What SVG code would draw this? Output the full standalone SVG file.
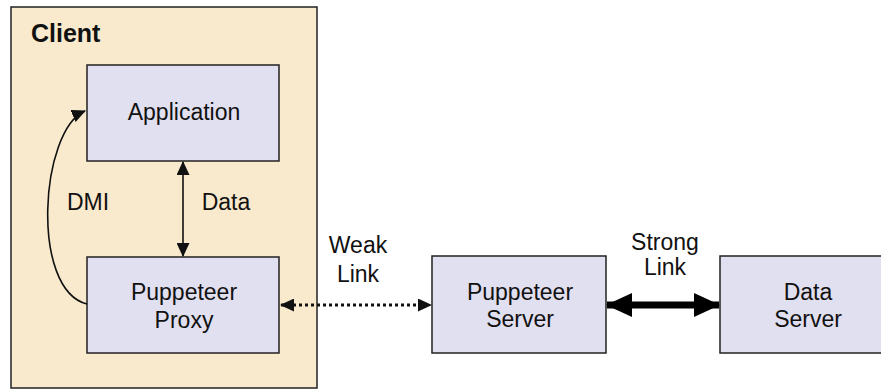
<svg xmlns="http://www.w3.org/2000/svg" width="881" height="392" viewBox="0 0 881 392">
  <style>
    .box { fill: #e1e0f0; stroke: #222; stroke-width: 1.5; }
    .lbl { font-family: "Liberation Sans", Arial, sans-serif; font-size: 23px; fill: #111; text-anchor: middle; }
    .thin { fill: none; stroke: #111; stroke-width: 1.6; }
  </style>
  <defs>
    <marker id="headS" markerUnits="userSpaceOnUse" viewBox="0 0 14 13" refX="13" refY="6.5" markerWidth="14" markerHeight="13" orient="auto-start-reverse">
      <path d="M0,0 L14,6.5 L0,13 Z" fill="#111"/>
    </marker>
    <marker id="headL" markerUnits="userSpaceOnUse" viewBox="0 0 26 24" refX="25" refY="12" markerWidth="26" markerHeight="24" orient="auto-start-reverse">
      <path d="M0,0 L26,12 L0,24 Z" fill="#000"/>
    </marker>
  </defs>

  <!-- client container -->
  <g id="client">
    <rect x="11" y="7" width="306" height="381" fill="#faeacd" stroke="#222" stroke-width="1.5"/>
    <text x="31" y="42" font-family="Liberation Sans, Arial, sans-serif" font-size="25" font-weight="bold" fill="#111">Client</text>
  </g>

  <g id="application">
    <rect class="box" x="87" y="65" width="192" height="96"/>
    <text class="lbl" x="184" y="120">Application</text>
  </g>

  <g id="puppeteer-proxy">
    <rect class="box" x="87" y="257" width="192" height="96"/>
    <text class="lbl" x="184" y="300">Puppeteer</text>
    <text class="lbl" x="184" y="328">Proxy</text>
  </g>

  <g id="puppeteer-server">
    <rect class="box" x="432" y="256" width="174" height="97"/>
    <text class="lbl" x="520" y="300">Puppeteer</text>
    <text class="lbl" x="520" y="327">Server</text>
  </g>

  <g id="data-server">
    <rect class="box" x="720" y="256" width="175" height="97"/>
    <text class="lbl" x="808" y="300">Data</text>
    <text class="lbl" x="808" y="327">Server</text>
  </g>

  <g id="connectors">
    <!-- DMI loop back to the application -->
    <path class="thin" d="M87,304 C30,290 40,130 85,111" marker-end="url(#headS)"/>
    <text class="lbl" x="88" y="210">DMI</text>

    <!-- data between application and proxy -->
    <line class="thin" x1="183" y1="162" x2="183" y2="256" marker-start="url(#headS)" marker-end="url(#headS)"/>
    <text class="lbl" x="226" y="210">Data</text>

    <!-- weak link -->
    <line x1="281" y1="305" x2="431" y2="305" stroke="#111" stroke-width="3" stroke-dasharray="3,3" marker-start="url(#headS)" marker-end="url(#headS)"/>
    <text class="lbl" x="358" y="253">Weak</text>
    <text class="lbl" x="358" y="282">Link</text>

    <!-- strong link -->
    <line x1="607" y1="305" x2="719" y2="305" stroke="#000" stroke-width="7" marker-start="url(#headL)" marker-end="url(#headL)"/>
    <text class="lbl" x="665" y="250">Strong</text>
    <text class="lbl" x="665" y="275">Link</text>
  </g>
</svg>
